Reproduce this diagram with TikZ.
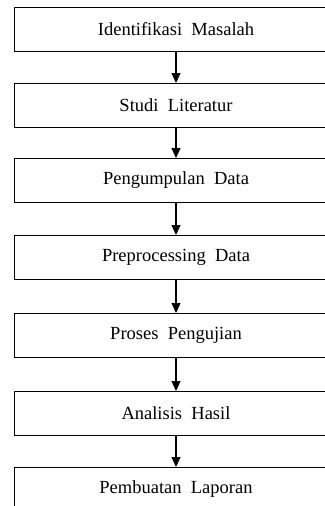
\documentclass[tikz,border=0pt]{standalone}
\usepackage{fontspec}
\setmainfont{Liberation Serif}[WordSpace=2]
\usepackage{tikz}
\usetikzlibrary{shapes, arrows.meta, positioning}

\begin{document}
\begin{tikzpicture}[->, >={Triangle[length=10pt, width=9pt]}, x=1pt, y=-1pt, line width=1.1pt,
    langkah/.style={draw, rectangle, inner sep=0pt, minimum width=324pt,
      minimum height=44pt, line width=1pt, font=\fontsize{18.5}{20}\selectfont}]
            \useasboundingbox (0,0) rectangle (324,506);
            \node [langkah] (Identifikasi) at (176, 29.5) {Identifikasi Masalah};
            \node [langkah] (Studi) at (176, 105.5) {Studi Literatur};
            \node [langkah] (Pengumpulan) at (176, 180.5) {Pengumpulan Data};
            \node [langkah] (Preprocessing) at (176, 257.5) {Preprocessing Data};
            \node [langkah] (Pengujian) at (176, 335.5) {Proses Pengujian};
            \node [langkah] (Analisis) at (176, 413.5) {Analisis Hasil};
            \node [langkah] (Laporan) at (176, 489.5) {Pembuatan Laporan};
            \draw (Identifikasi) -- (Studi);
            \draw (Studi) -- (Pengumpulan);
            \draw (Pengumpulan) -- (Preprocessing);
            \draw (Preprocessing) -- (Pengujian);
            \draw (Pengujian) -- (Analisis);
            \draw (Analisis) -- (Laporan);
        \end{tikzpicture}
\end{document}
